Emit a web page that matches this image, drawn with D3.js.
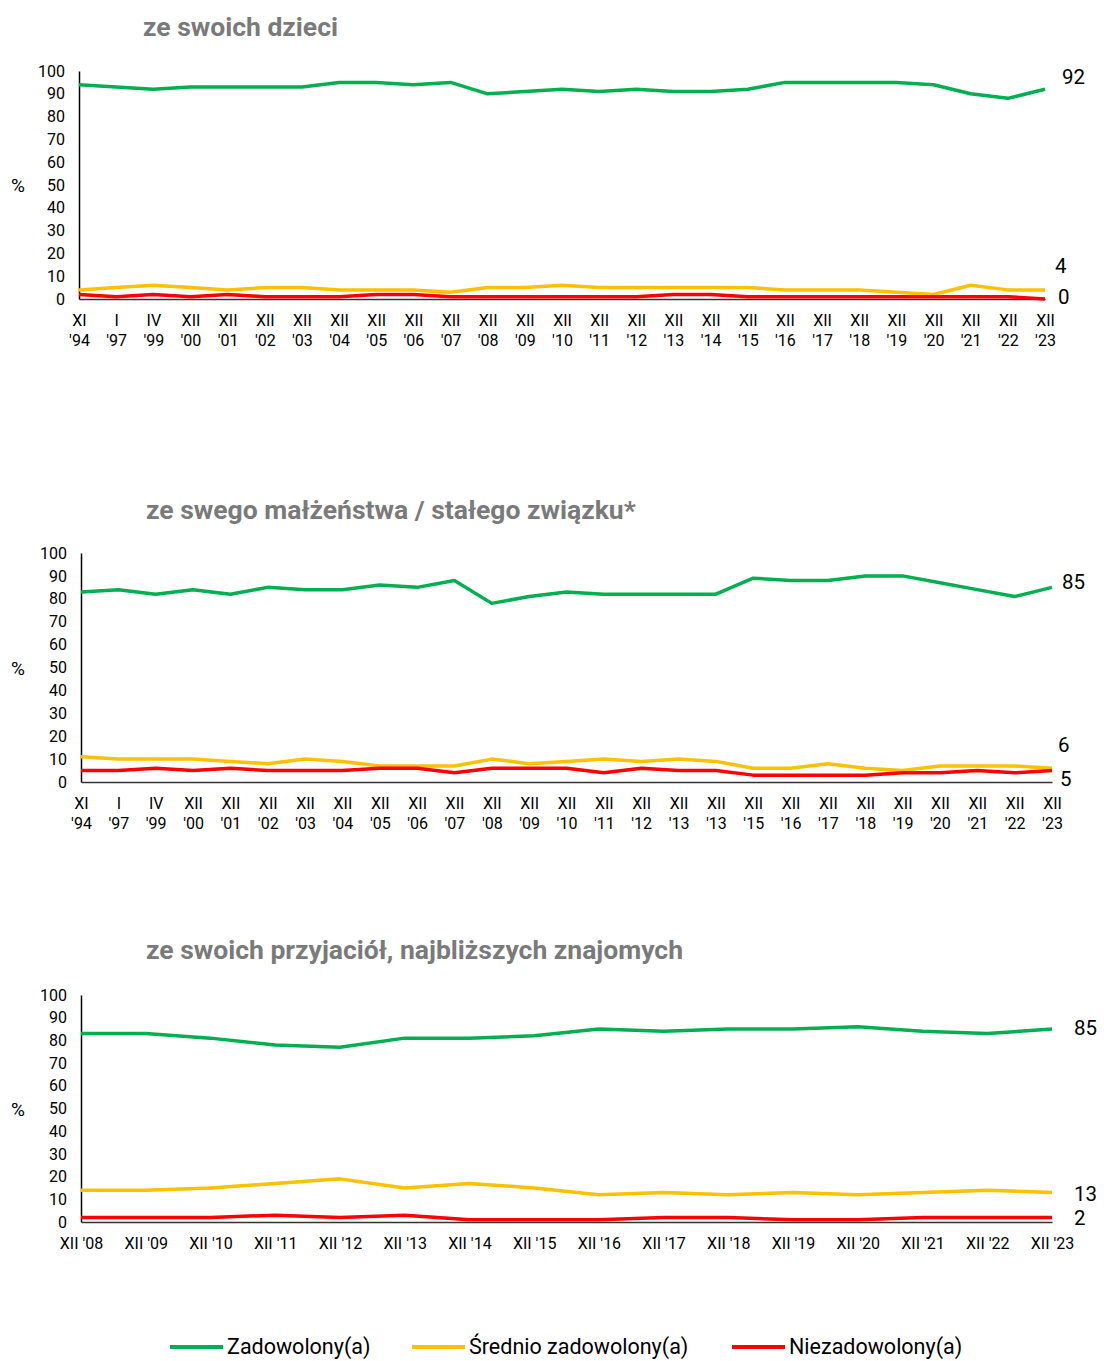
<!DOCTYPE html>
<html>
<head>
<meta charset="utf-8">
<script src="https://cdn.jsdelivr.net/npm/d3@7"></script>
<style>
  body { margin: 0; background: #fff; }
  svg { display: block; font-family: Roboto, "Noto Sans", sans-serif; }
</style>
</head>
<body>
<svg id="chart" width="1104" height="1361"></svg>
<script>
// --- data ---
const catsLong = [["XI", "'94"], ["I", "'97"], ["IV", "'99"], ["XII", "'00"], ["XII", "'01"],
  ["XII", "'02"], ["XII", "'03"], ["XII", "'04"], ["XII", "'05"], ["XII", "'06"], ["XII", "'07"],
  ["XII", "'08"], ["XII", "'09"], ["XII", "'10"], ["XII", "'11"], ["XII", "'12"], ["XII", "'13"],
  ["XII", "'14"], ["XII", "'15"], ["XII", "'16"], ["XII", "'17"], ["XII", "'18"], ["XII", "'19"],
  ["XII", "'20"], ["XII", "'21"], ["XII", "'22"], ["XII", "'23"]];
// chart 2 repeats "XII '13" in the source instead of '14
const catsLong2 = catsLong.map((c, i) => (i === 17 ? ["XII", "'13"] : c));
const catsShort = ["XII '08", "XII '09", "XII '10", "XII '11", "XII '12", "XII '13", "XII '14",
  "XII '15", "XII '16", "XII '17", "XII '18", "XII '19", "XII '20", "XII '21", "XII '22", "XII '23"];

const dzieciZad = [94, 93, 92, 93, 93, 93, 93, 95, 95, 94, 95, 90, 91, 92, 91, 92, 91, 91, 92, 95, 95, 95, 95, 94, 90, 88, 92];
const dzieciSr = [4, 5, 6, 5, 4, 5, 5, 4, 4, 4, 3, 5, 5, 6, 5, 5, 5, 5, 5, 4, 4, 4, 3, 2, 6, 4, 4];
const dzieciNie = [2, 1, 2, 1, 2, 1, 1, 1, 2, 2, 1, 1, 1, 1, 1, 1, 2, 2, 1, 1, 1, 1, 1, 1, 1, 1, 0];

const malzZad = [83, 84, 82, 84, 82, 85, 84, 84, 86, 85, 88, 78, 81, 83, 82, 82, 82, 82, 89, 88, 88, 90, 90, 87, 84, 81, 85];
const malzSr = [11, 10, 10, 10, 9, 8, 10, 9, 7, 7, 7, 10, 8, 9, 10, 9, 10, 9, 6, 6, 8, 6, 5, 7, 7, 7, 6];
const malzNie = [5, 5, 6, 5, 6, 5, 5, 5, 6, 6, 4, 6, 6, 6, 4, 6, 5, 5, 3, 3, 3, 3, 4, 4, 5, 4, 5];

const przyjZad = [83, 83, 81, 78, 77, 81, 81, 82, 85, 84, 85, 85, 86, 84, 83, 85];
const przyjSr = [14, 14, 15, 17, 19, 15, 17, 15, 12, 13, 12, 13, 12, 13, 14, 13];
const przyjNie = [2, 2, 2, 3, 2, 3, 1, 1, 1, 2, 2, 1, 1, 2, 2, 2];

const yTicks = [0, 10, 20, 30, 40, 50, 60, 70, 80, 90, 100];
const seriesNames = ["Zadowolony(a)", "Średnio zadowolony(a)", "Niezadowolony(a)"];
const colors = ["#00b050", "#ffc000", "#ff0000"];

const svg = d3.select("#chart");

function drawPanel(opt) {
  const x = d3.scalePoint().domain(d3.range(opt.cats.length)).range([opt.x0, opt.x1]);
  const y = d3.scaleLinear().domain([0, 100]).range([opt.yBottom, opt.yTop]);
  const g = svg.append("g");

  g.append("text")
    .attr("x", opt.titleX).attr("y", opt.titleY)
    .attr("font-size", 26.5).attr("font-weight", 700).attr("fill", "#7a7a7a")
    .text(opt.title);

  g.append("text")
    .attr("x", 11).attr("y", (opt.yTop + opt.yBottom) / 2 + 7)
    .attr("font-size", 19).attr("fill", "#000")
    .text("%");

  // y axis
  const yAxis = g.append("g")
    .attr("transform", `translate(${opt.x0},0)`)
    .call(d3.axisLeft(y).tickValues(yTicks).tickSize(0).tickPadding(14));
  yAxis.select(".domain").attr("stroke", "#000").attr("stroke-width", 1.5);
  yAxis.selectAll("text").attr("font-size", 16).attr("fill", "#000").attr("font-family", "Roboto, sans-serif");

  // x axis
  const xAxis = g.append("g")
    .attr("transform", `translate(0,${opt.yBottom})`)
    .call(d3.axisBottom(x).tickSize(0).tickPadding(opt.twoLine ? 16 : 16)
      .tickFormat(i => opt.twoLine ? "" : opt.cats[i]));
  xAxis.select(".domain").attr("stroke", "#333").attr("stroke-width", 1.5);
  xAxis.selectAll("text").attr("font-size", 16).attr("fill", "#000").attr("font-family", "Roboto, sans-serif");
  if (opt.twoLine) {
    xAxis.selectAll(".tick text").each(function (i) {
      const t = d3.select(this).text(null);
      t.append("tspan").attr("x", 0).attr("dy", "0.71em").text(opt.cats[i][0]);
      t.append("tspan").attr("x", 0).attr("dy", "1.25em").text(opt.cats[i][1]);
    });
  }

  const line = d3.line().x((d, i) => x(i)).y(d => y(d)).curve(d3.curveLinear);
  opt.series.forEach((vals, s) => {
    g.append("path")
      .datum(vals)
      .attr("fill", "none")
      .attr("stroke", colors[s])
      .attr("stroke-width", 3.5)
      .attr("stroke-linejoin", "round")
      .attr("d", line);
    const last = vals[vals.length - 1];
    g.append("text")
      .attr("x", opt.x1 + opt.labelDx[s])
      .attr("y", y(last) + opt.labelDy[s])
      .attr("font-size", 20.5).attr("fill", "#000")
      .attr("dominant-baseline", "middle")
      .text(last);
  });
}

drawPanel({
  title: "ze swoich dzieci", titleX: 143, titleY: 36,
  cats: catsLong, twoLine: true,
  series: [dzieciZad, dzieciSr, dzieciNie],
  x0: 79, x1: 1045, yTop: 71, yBottom: 299,
  labelDx: [17, 10, 13], labelDy: [-11, -22, 0]
});

drawPanel({
  title: "ze swego małżeństwa / stałego związku*", titleX: 146, titleY: 519,
  cats: catsLong2, twoLine: true,
  series: [malzZad, malzSr, malzNie],
  x0: 81, x1: 1052, yTop: 553, yBottom: 782,
  labelDx: [10, 6, 8], labelDy: [-4, -22, 10]
});

drawPanel({
  title: "ze swoich przyjaciół, najbliższych znajomych", titleX: 146, titleY: 959,
  cats: catsShort, twoLine: false,
  series: [przyjZad, przyjSr, przyjNie],
  x0: 81, x1: 1052, yTop: 995, yBottom: 1222,
  labelDx: [22, 22, 22], labelDy: [1, 3, 2]
});

// legend
const legend = svg.append("g").attr("transform", "translate(0,1347)");
const legendX = [170, 412, 732];
seriesNames.forEach((name, i) => {
  legend.append("line")
    .attr("x1", legendX[i]).attr("x2", legendX[i] + 53)
    .attr("y1", 0).attr("y2", 0)
    .attr("stroke", colors[i]).attr("stroke-width", 4);
  legend.append("text")
    .attr("x", legendX[i] + 57).attr("y", 1)
    .attr("dominant-baseline", "middle")
    .attr("font-size", 21.5).attr("fill", "#000")
    .text(name);
});
</script>
</body>
</html>
